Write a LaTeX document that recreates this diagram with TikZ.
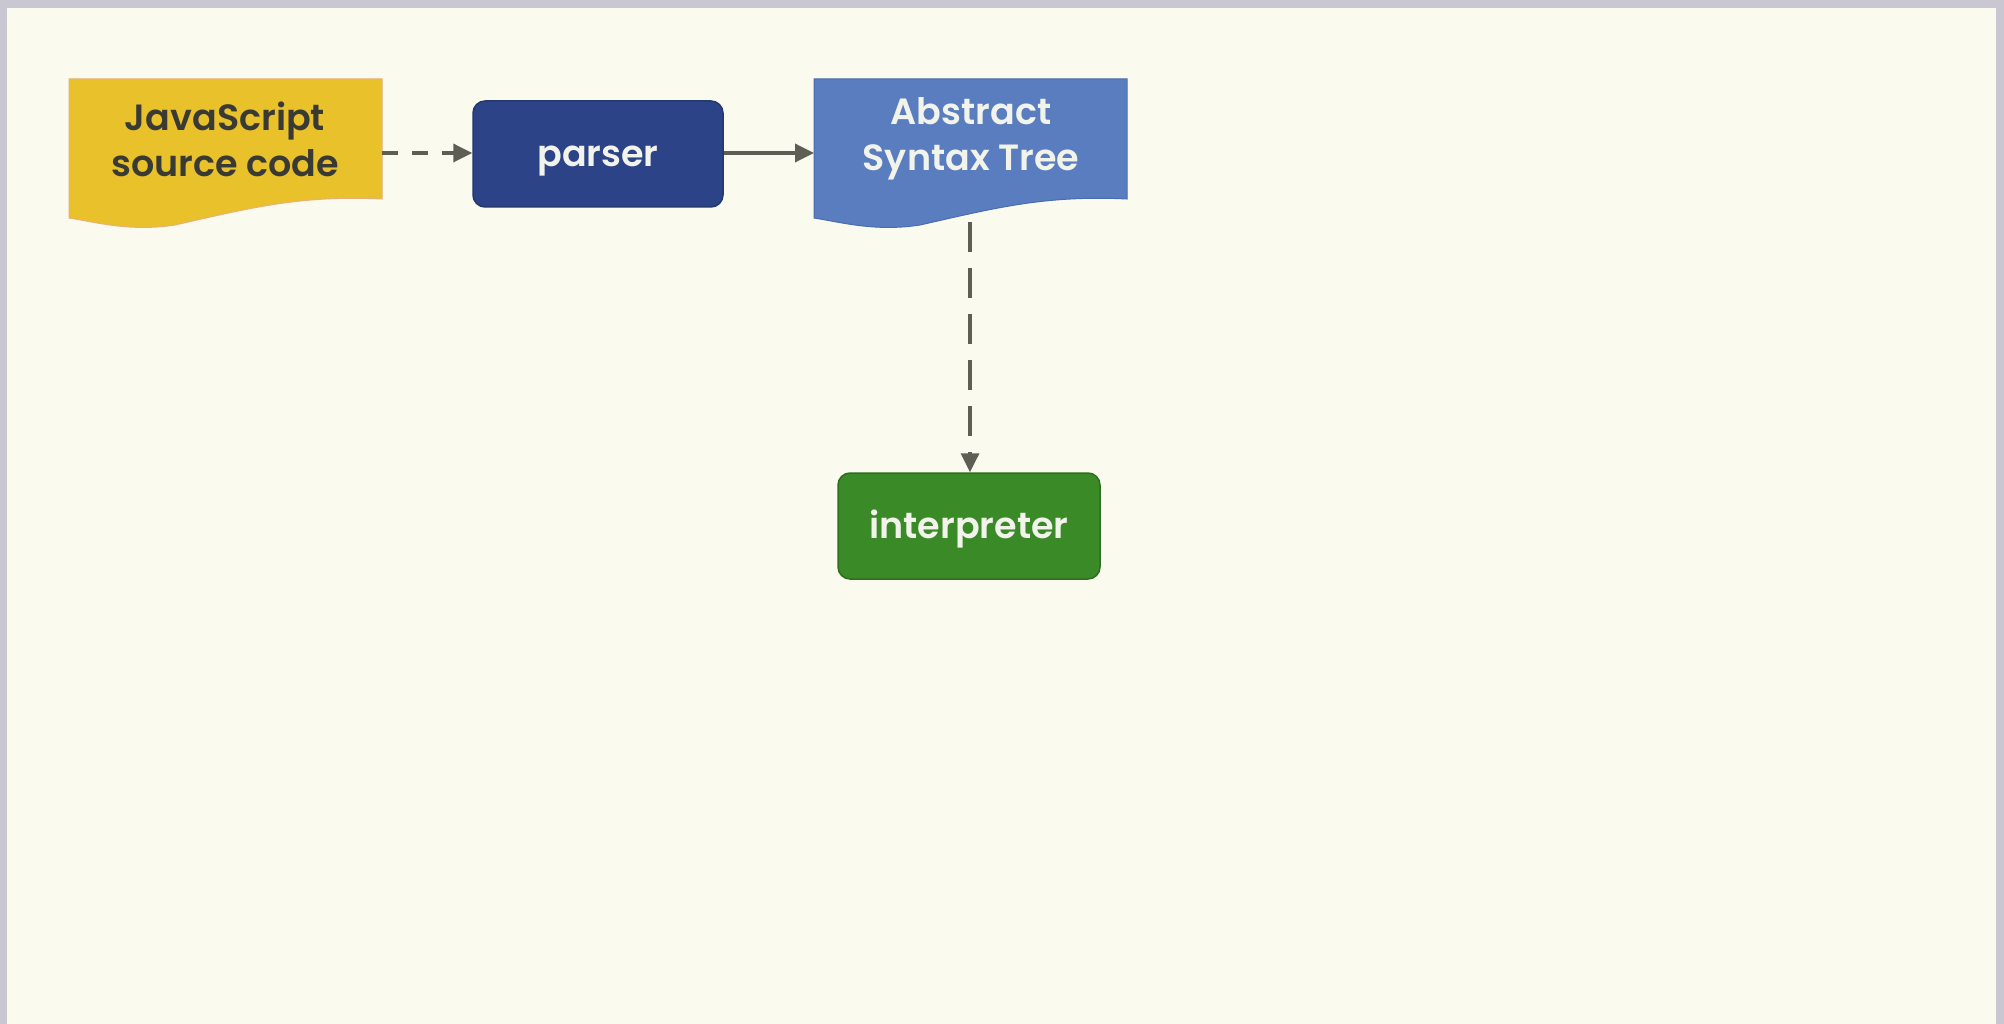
\documentclass[tikz,border=0pt]{standalone}
\usepackage{fontspec}
\setmainfont{Poppins}[BoldFont={* SemiBold}]
\usetikzlibrary{arrows.meta}
\definecolor{bgc}{HTML}{FAFAEE}
\definecolor{framec}{HTML}{C9C8D2}
\definecolor{jsc}{HTML}{E9C12B}
\definecolor{jsb}{HTML}{E8B07A}
\definecolor{parc}{HTML}{2D4387}
\definecolor{parb}{HTML}{253870}
\definecolor{astc}{HTML}{5A7DC0}
\definecolor{astb}{HTML}{4A6CB0}
\definecolor{intc}{HTML}{3A8A28}
\definecolor{intb}{HTML}{2E6E20}
\definecolor{arrc}{HTML}{5E5E55}
\definecolor{darktext}{HTML}{3A3A34}
\definecolor{lighttext}{HTML}{F2F4EC}
\tikzset{
  x=1pt,y=1pt,
  lbl/.style={font=\fontsize{36.5}{46}\selectfont\bfseries, align=center, inner sep=0pt},
  roundbox/.style={rounded corners=12pt, line width=1.5pt, minimum width=250pt, minimum height=106pt, lbl, text height=30pt, text depth=5pt},
  conn/.style={draw=arrc, line width=3.5pt, -{Triangle[length=19pt,width=18pt]}},
  dash1/.style={dash pattern=on 16pt off 14pt},
  dash2/.style={dash pattern=on 30pt off 16pt}
}
\begin{document}
\begin{tikzpicture}
\useasboundingbox (0,0) rectangle (2004,-1024);
\fill[framec] (0,0) rectangle (2004,-1024);
\fill[bgc] (7,-8) rectangle (1996,-1024);
% JS document shape
\filldraw[fill=jsc, draw=jsb, line width=1pt]
  (69,-79) -- (382,-79) -- (382,-199)
  .. controls (300,-195) and (250,-208) .. (175,-225)
  .. controls (130,-232) and (95,-222) .. (69,-218) -- cycle;
\node[lbl, text=darktext] (js) at (225,-139) {JavaScript\\source code};
% AST document shape
\filldraw[fill=astc, draw=astb, line width=1pt]
  (814,-79) -- (1127,-79) -- (1127,-199)
  .. controls (1045,-195) and (995,-208) .. (920,-225)
  .. controls (875,-232) and (840,-222) .. (814,-218) -- cycle;
\node[lbl, text=lighttext] (ast) at (971,-139) {Abstract\\Syntax Tree};
\coordinate (astbot) at (970,-222);
\coordinate (jsright) at (382,-153);
\coordinate (astleft) at (814,-153);
% boxes
\node[roundbox, fill=parc, draw=parb, text=lighttext] (parser) at (598,-154) {parser};
\node[roundbox, fill=intc, draw=intb, text=lighttext, minimum width=262pt] (interp) at (969,-526) {interpreter};
% connectors
\draw[conn, dash1] (jsright) -- (parser.west |- jsright);
\draw[conn] (parser.east |- jsright) -- (astleft);
\draw[conn, dash2] (astbot) -- (interp.north -| astbot);
\end{tikzpicture}
\end{document}
